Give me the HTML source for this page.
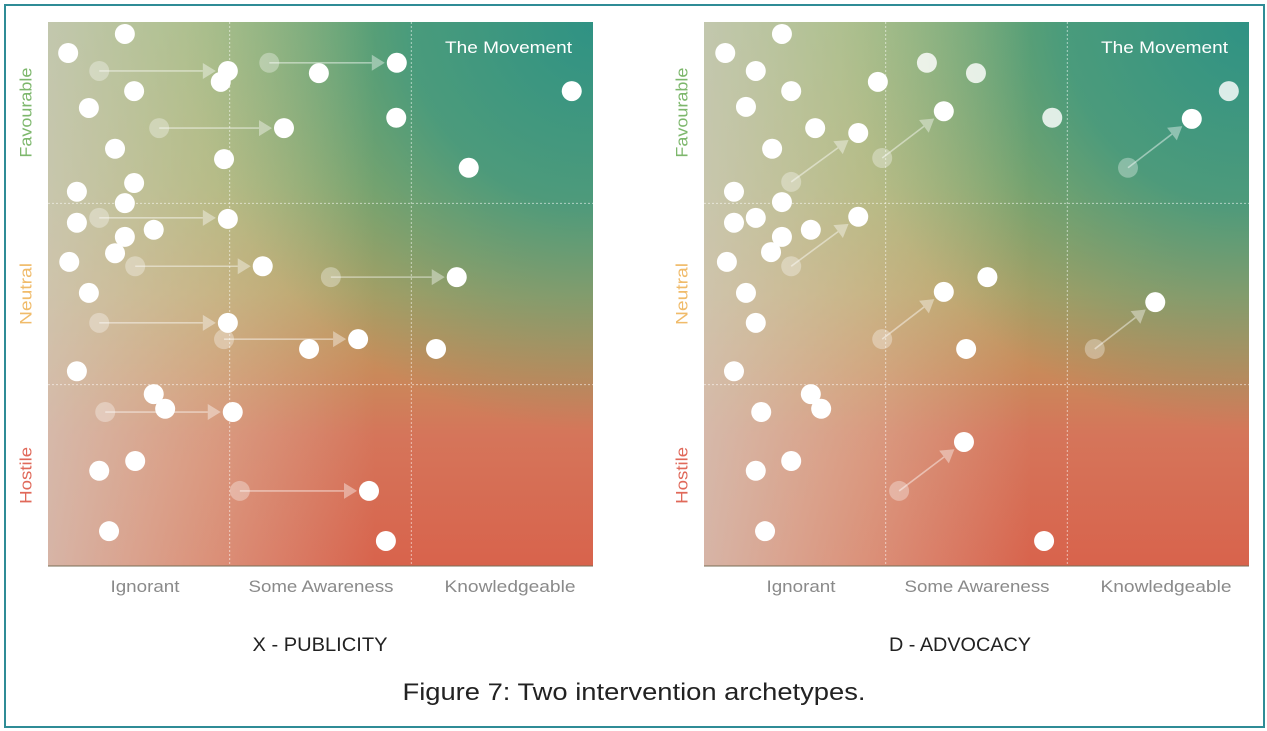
<!DOCTYPE html>
<html><head><meta charset="utf-8">
<style>
html,body{margin:0;padding:0;background:#fff;}
body{width:1267px;height:731px;position:relative;overflow:hidden;font-family:"Liberation Sans",sans-serif;}
#frame{position:absolute;left:4px;top:4px;width:1257px;height:720px;border:2px solid #2f8c96;box-sizing:content-box;}
svg{position:absolute;left:0;top:0;}
</style></head>
<body>
<div id="frame"></div>
<svg id="chart" width="1267" height="731">
<defs>
<linearGradient id="vg" x1="0" y1="0" x2="0" y2="1">
<stop offset="0" stop-color="#86b06a"/>
<stop offset="0.3" stop-color="#9cac66"/>
<stop offset="0.5" stop-color="#b8a062"/>
<stop offset="0.64" stop-color="#c98a5a"/>
<stop offset="0.76" stop-color="#d5755a"/>
<stop offset="1" stop-color="#d8634c"/>
</linearGradient>
<radialGradient id="tr" cx="1" cy="0" r="0.75">
<stop offset="0" stop-color="#2f9284" stop-opacity="1"/>
<stop offset="0.45" stop-color="#3a9680" stop-opacity="0.8"/>
<stop offset="1" stop-color="#5a9a70" stop-opacity="0"/>
</radialGradient>
<linearGradient id="lw" x1="0" y1="0" x2="1" y2="0">
<stop offset="0" stop-color="#d6cfc4" stop-opacity="0.75"/>
<stop offset="0.3" stop-color="#e0d4bc" stop-opacity="0.4"/>
<stop offset="0.6" stop-color="#e0d8c8" stop-opacity="0"/>
</linearGradient>
</defs>
</svg>
<script>
// Data: x = awareness (0-100), y = favourability (0-100)
const leftDots = [[3.7,94.3],[14.1,97.8],[33.0,91.0],[31.7,89.0],[49.7,90.6],[64.0,92.5],[96.1,87.3],[15.8,87.3],[7.5,84.2],[63.9,82.4],[43.3,80.5],[12.3,76.7],[32.3,74.8],[77.2,73.2],[5.3,68.8],[15.8,70.4],[14.1,66.7],[5.3,63.1],[33.0,63.8],[19.4,61.8],[14.1,60.5],[12.3,57.5],[3.9,55.9],[39.4,55.1],[75.0,53.1],[7.5,50.2],[33.0,44.7],[56.9,41.7],[47.9,39.9],[71.2,39.9],[5.3,35.8],[19.4,31.6],[21.5,28.9],[33.9,28.3],[16.0,19.3],[9.4,17.5],[58.9,13.8],[11.2,6.4],[62.0,4.6]];
const leftMoveFrom = [[9.4,91.0],[40.6,92.5],[20.4,80.5],[9.4,64.0],[16.0,55.1],[51.9,53.1],[9.4,44.7],[32.3,41.7],[10.5,28.3],[35.2,13.8]];
const leftMoveTo = [[33.0,91.0],[64.0,92.5],[43.3,80.5],[33.0,64.0],[39.4,55.1],[75.0,53.1],[33.0,44.7],[56.9,41.7],[33.9,28.3],[58.9,13.8]];
const rightDots = [[3.9,94.3],[14.3,97.8],[9.5,91.0],[16.0,87.3],[7.7,84.4],[31.9,89.0],[44.0,83.6],[28.3,79.6],[20.4,80.5],[12.5,76.7],[89.5,82.2],[5.5,68.8],[14.3,66.9],[9.5,64.0],[5.5,63.1],[28.3,64.2],[19.6,61.8],[14.3,60.5],[12.3,57.7],[4.2,55.9],[52.0,53.1],[44.0,50.4],[7.7,50.2],[82.8,48.5],[9.5,44.7],[48.1,39.9],[5.5,35.8],[19.6,31.6],[21.5,28.9],[10.5,28.3],[47.7,22.8],[16.0,19.3],[9.5,17.5],[11.2,6.4],[62.4,4.6]];
const rightTintDots = [[40.9,92.5],[49.9,90.6],[96.3,87.3],[63.9,82.4]];
const rightMoveFrom = [[16.0,70.6],[32.7,75.0],[16.0,55.1],[32.7,41.7],[77.8,73.2],[71.7,39.9],[35.8,13.8]];
const rightMoveTo = [[28.3,79.6],[44.0,83.6],[28.3,64.2],[44.0,50.4],[89.5,82.2],[82.8,48.5],[47.7,22.8]];
const xTickLabels = ["Ignorant","Some Awareness","Knowledgeable"];
const yTickLabels = ["Hostile","Neutral","Favourable"];
const yTickColors = ["#e0695a","#f0bb6a","#7db76c"];
const chartTitles = ["X - PUBLICITY","D - ADVOCACY"];

const NS="http://www.w3.org/2000/svg";
const svg=document.getElementById('chart');
function mk(tag,attrs,parent){const e=document.createElementNS(NS,tag);for(const k in attrs)e.setAttribute(k,attrs[k]);(parent||svg).appendChild(e);return e;}

function drawChart(ox,title,titleX,titleW,dots,tint,from,to,key){
  const W=545,H=544,top=22;
  const sx=v=>ox+v/100*W, sy=v=>top+H-v/100*H;
  const g=mk('g',{});
  
  
  const bg=mk('rect',{x:ox,y:top,width:W,height:H,fill:'url(#vg)'},g);
  
  
  mk('rect',{x:ox,y:top,width:W,height:H,fill:'url(#tr)'},g);
  mk('rect',{x:ox,y:top,width:W,height:H,fill:'url(#lw)'},g);
  mk('line',{x1:ox,y1:top+H,x2:ox+W,y2:top+H,stroke:'#7a6e55','stroke-width':1},g);
  for(let i=1;i<3;i++){
    const gx=mk('line',{x1:sx(i*100/3),y1:top,x2:sx(i*100/3),y2:top+H,stroke:'#fff','stroke-opacity':0.55,'stroke-dasharray':'2,2'},g);
    
    
    const gy=mk('line',{x1:ox,y1:sy(i*100/3),x2:ox+W,y2:sy(i*100/3),stroke:'#fff','stroke-opacity':0.55,'stroke-dasharray':'2,2'},g);
    
    
  }
  const mv=mk('text',{x:ox+W-21,y:53,'text-anchor':'end','font-size':17,fill:'#fff',textLength:127,lengthAdjust:'spacingAndGlyphs'},g);
  mv.textContent='The Movement';
  
  
  for(let i=0;i<from.length;i++){
    const x1=sx(from[i][0]),y1=sy(from[i][1]),x2=sx(to[i][0]),y2=sy(to[i][1]);
    const fd=mk('circle',{cx:x1,cy:y1,r:10,fill:'#fff','fill-opacity':0.33},g);
    
    
    const dx=x2-x1,dy=y2-y1,L=Math.hypot(dx,dy),ux=dx/L,uy=dy/L;
    const tx=x2-ux*12,ty=y2-uy*12,bx=tx-ux*13,by=ty-uy*13;
    const ln=mk('line',{x1:x1,y1:y1,x2:bx,y2:by,stroke:'#fff','stroke-opacity':0.45,'stroke-width':1.6},g);
    
    
    const px=-uy,py=ux;
    const hd=mk('polygon',{points:`${tx},${ty} ${bx+px*8},${by+py*8} ${bx-px*8},${by-py*8}`,fill:'#fff','fill-opacity':0.4},g);
    
    
  }
  dots.forEach(d=>{
    const c=mk('circle',{cx:sx(d[0]),cy:sy(d[1]),r:10,fill:'#fff'},g);
    
    
  });
  tint.forEach(d=>{
    const c=mk('circle',{cx:sx(d[0]),cy:sy(d[1]),r:10,fill:'#fff','fill-opacity':0.82},g);
    
    
  });
  xTickLabels.forEach((t,i)=>{
    const cx=[145,321,510][i]-48+ox;
    const e=mk('text',{x:cx,y:592,'text-anchor':'middle','font-size':17,fill:'#8a8a8a',textLength:[69,145,131][i],lengthAdjust:'spacingAndGlyphs'},g);
    e.textContent=t;
    
    
  });
  yTickLabels.forEach((t,i)=>{
    const cy=sy(i*100/3+100/6), cx=ox-21;
    const e=mk('text',{x:cx,y:cy,'text-anchor':'middle','font-size':17,fill:yTickColors[i],transform:`rotate(-90 ${cx} ${cy})`,'dominant-baseline':'middle',textLength:[57,62,90][i],lengthAdjust:'spacingAndGlyphs'},g);
    e.textContent=t;
    
    
  });
  const tt=mk('text',{x:titleX,y:651,'text-anchor':'middle','font-size':19,fill:'#222',textLength:titleW,lengthAdjust:'spacingAndGlyphs'},g);
  tt.textContent=title;
  
  
}
drawChart(48,chartTitles[0],320,135,leftDots,[],leftMoveFrom,leftMoveTo,'publicity');
drawChart(704,chartTitles[1],960,142,rightDots,rightTintDots,rightMoveFrom,rightMoveTo,'advocacy');
const cap=mk('text',{x:634,y:700,'text-anchor':'middle','font-size':24,fill:'#222',textLength:463,lengthAdjust:'spacingAndGlyphs'});
cap.textContent='Figure 7: Two intervention archetypes.';


</script>
</body></html>
